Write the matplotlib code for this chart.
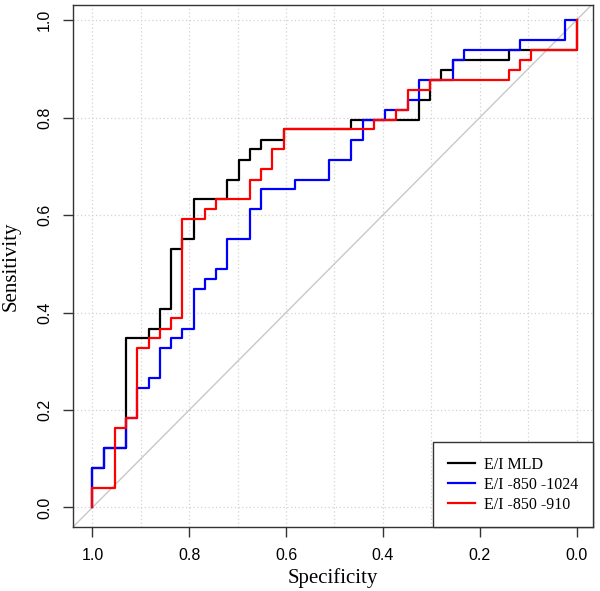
import numpy as np
import matplotlib
matplotlib.use("Agg")
import matplotlib.pyplot as plt

# ROC curves: at each specificity the curve steps up to the given sensitivity
mld_spec = [1.0, 1.0, 0.977, 0.93, 0.884, 0.86, 0.837, 0.814, 0.791, 0.721, 0.698, 0.674,
            0.651, 0.605, 0.465, 0.326, 0.302, 0.279, 0.256, 0.14, 0.093, 0.0]
mld_sens = [0.0, 0.082, 0.122, 0.347, 0.367, 0.408, 0.531, 0.551, 0.633, 0.673, 0.714, 0.735,
            0.755, 0.776, 0.796, 0.837, 0.878, 0.898, 0.918, 0.939, 0.939, 1.0]

b1024_spec = [1.0, 1.0, 0.977, 0.93, 0.907, 0.884, 0.86, 0.837, 0.814, 0.791, 0.767, 0.744,
              0.721, 0.674, 0.651, 0.581, 0.512, 0.465, 0.442, 0.395, 0.349, 0.326, 0.256,
              0.233, 0.116, 0.023, 0.0]
b1024_sens = [0.0, 0.082, 0.122, 0.184, 0.245, 0.265, 0.327, 0.347, 0.367, 0.449, 0.469, 0.49,
              0.551, 0.612, 0.653, 0.673, 0.714, 0.755, 0.796, 0.816, 0.837, 0.878, 0.918,
              0.939, 0.959, 1.0, 1.0]

b910_spec = [1.0, 1.0, 0.953, 0.93, 0.907, 0.884, 0.86, 0.837, 0.814, 0.767, 0.744, 0.674,
             0.651, 0.628, 0.605, 0.419, 0.372, 0.349, 0.302, 0.14, 0.116, 0.093, 0.0]
b910_sens = [0.0, 0.041, 0.163, 0.184, 0.327, 0.347, 0.367, 0.388, 0.592, 0.612, 0.633, 0.673,
             0.694, 0.735, 0.776, 0.796, 0.816, 0.857, 0.878, 0.898, 0.918, 0.939, 1.0]

labels = ["E/I MLD", "E/I -850 -1024", "E/I -850 -910"]
colors = ["black", "blue", "red"]

serif = "Liberation Serif"
sans = "Liberation Sans"

fig = plt.figure(figsize=(6, 5.91), dpi=100)
ax = fig.add_axes([0.1217, 0.1083, 0.8666, 0.8832])

# R style grid: dotted light gray
for gx in np.arange(0, 1.01, 0.1):
    ax.axvline(gx, color="#d3d3d3", lw=0.9, ls=(0, (1, 2)), zorder=0)
for gy in np.arange(0, 1.01, 0.2):
    ax.axhline(gy, color="#d3d3d3", lw=0.9, ls=(0, (1, 2)), zorder=0)

ax.axline((1, 0), (0, 1), color="#c8c8c8", lw=1, zorder=1)

curves = [(mld_spec, mld_sens), (b1024_spec, b1024_sens), (b910_spec, b910_sens)]
for (sx, sy), lab, col in zip(curves, labels, colors):
    ax.plot(sx, sy, drawstyle="steps-post", color=col, lw=1.6, label=lab, zorder=2)

ax.set_xlim(1.04, -0.034)
ax.set_ylim(-0.04, 1.031)
ax.set_xticks([1.0, 0.8, 0.6, 0.4, 0.2, 0.0])
ax.set_yticks([0.0, 0.2, 0.4, 0.6, 0.8, 1.0])
ax.set_xticklabels(["1.0", "0.8", "0.6", "0.4", "0.2", "0.0"], family=sans, fontsize=11.5)
ax.set_yticklabels(["0.0", "0.2", "0.4", "0.6", "0.8", "1.0"], family=sans, fontsize=11.5,
                   rotation=90, va="center")
ax.tick_params(direction="out", length=7, width=1, color="#333333", pad=8)

for s in ax.spines.values():
    s.set_color("#333333")
    s.set_linewidth(1)

ax.set_xlabel("Specificity", family=serif, fontsize=15, labelpad=4)
ax.set_ylabel("Sensitivity", family=serif, fontsize=15, labelpad=12)

leg = ax.legend(loc="lower right", bbox_to_anchor=(1.0, 0.0), borderaxespad=0,
                prop={"family": serif, "size": 11.5}, fancybox=False, framealpha=1,
                edgecolor="#333333", handlelength=1.7, handletextpad=0.6,
                labelspacing=0.25, borderpad=0.9)
leg.get_frame().set_linewidth(1)

fig.savefig("out.png", dpi=100)
